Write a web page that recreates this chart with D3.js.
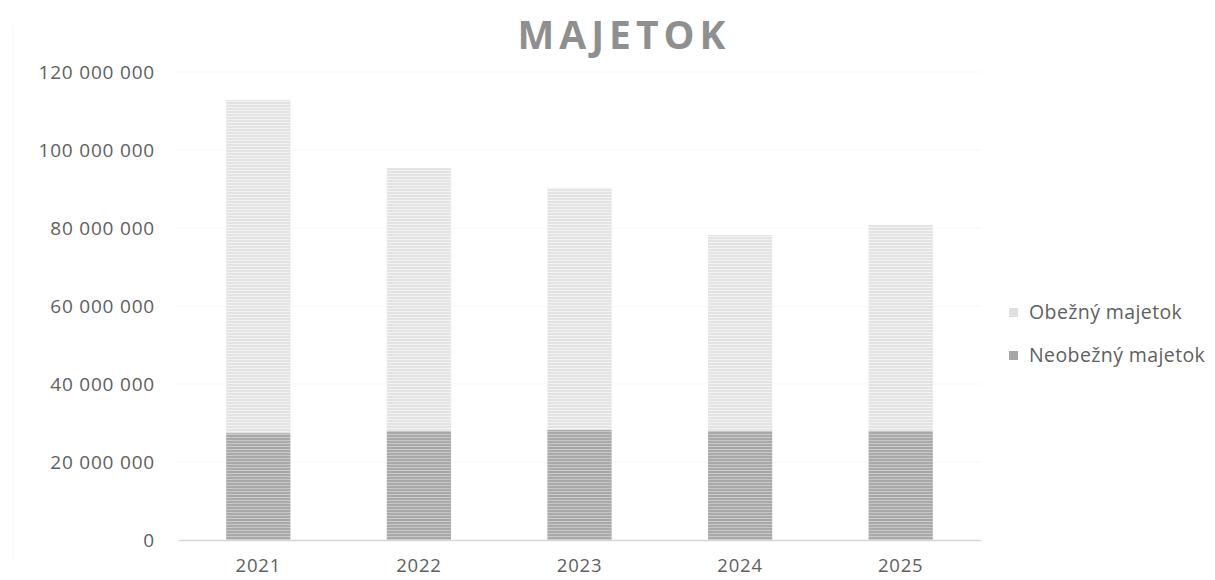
<!DOCTYPE html>
<html>
<head>
<meta charset="utf-8">
<script src="https://cdn.jsdelivr.net/npm/d3@7/dist/d3.min.js"></script>
<style>
  html, body { margin: 0; padding: 0; background: #fff; }
  svg { display: block; }
  text { font-family: "Open Sans", "Noto Sans", sans-serif; }
</style>
</head>
<body>
<svg id="chart" width="1215" height="580"></svg>
<script>
const title = "MAJETOK";
const years = ["2021", "2022", "2023", "2024", "2025"];
const neobezny = [27.4e6, 28.0e6, 28.2e6, 28.0e6, 28.0e6];
const obezny = [85.4e6, 67.4e6, 62.1e6, 50.2e6, 52.8e6];
const seriesNames = ["Obežný majetok", "Neobežný majetok"];
const yTicks = [0, 20e6, 40e6, 60e6, 80e6, 100e6, 120e6];

const svg = d3.select("#chart");
const plot = { left: 178, right: 981, top: 72, bottom: 540 };

// patterns
const defs = svg.append("defs");
function stripe(id, base, light) {
  const p = defs.append("pattern").attr("id", id).attr("patternUnits", "userSpaceOnUse")
    .attr("width", 6).attr("height", 3);
  p.append("rect").attr("width", 6).attr("height", 3).attr("fill", base);
  p.append("rect").attr("y", 2).attr("width", 6).attr("height", 1).attr("fill", light);
}
stripe("pNeo", "#a9a9a9", "#c8c8c8");
stripe("pOb", "#e3e3e3", "#f3f3f3");

const x = d3.scaleBand().domain(years).range([plot.left, plot.right])
  .paddingInner(0.6).paddingOuter(0.3);
const y = d3.scaleLinear().domain([0, 120e6]).range([plot.bottom, plot.top]);

// faint chart border
svg.append("line").attr("x1", 13).attr("x2", 13).attr("y1", 25).attr("y2", 560)
  .attr("stroke", "#f3f3f3").attr("stroke-width", 1);

// gridlines
svg.append("g").selectAll("line").data(yTicks.filter(d => d > 0)).join("line")
  .attr("x1", plot.left).attr("x2", plot.right)
  .attr("y1", d => y(d)).attr("y2", d => y(d))
  .attr("stroke", "#f7f7f7").attr("stroke-width", 1);

// title
svg.append("text").attr("x", 624).attr("y", 49).attr("text-anchor", "middle")
  .attr("font-size", 39).attr("font-weight", "bold").attr("letter-spacing", 5)
  .attr("fill", "#8f8f8f").text(title);

// stacked data
const data = years.map((yr, i) => ({ year: yr, neo: neobezny[i], ob: obezny[i] }));
const stack = d3.stack().keys(["neo", "ob"])(data);
const fills = { neo: "url(#pNeo)", ob: "url(#pOb)" };

svg.append("g").selectAll("g").data(stack).join("g")
  .attr("fill", d => fills[d.key])
  .selectAll("rect").data(d => d).join("rect")
  .attr("x", d => x(d.data.year))
  .attr("width", x.bandwidth())
  .attr("y", d => y(d[1]))
  .attr("height", d => y(d[0]) - y(d[1]));

// y axis
const fmt = v => d3.format(",")(v).replace(/,/g, " ");
const yAxis = d3.axisLeft(y).tickValues(yTicks).tickFormat(fmt).tickSize(0).tickPadding(0);
const gy = svg.append("g").attr("transform", `translate(155,0)`).call(yAxis);
gy.select(".domain").remove();
gy.selectAll("text").attr("font-size", 19).attr("letter-spacing", 0.8).attr("fill", "#606060")
  .attr("font-family", "Open Sans, sans-serif").attr("dy", "0.35em");

// x axis
const xAxis = d3.axisBottom(x).tickSize(0).tickPadding(0);
const gx = svg.append("g").attr("transform", `translate(0,${plot.bottom})`).call(xAxis);
gx.select(".domain").attr("stroke", "#d6d6d6").attr("stroke-width", 1.5);
gx.selectAll("text").attr("font-size", 18.5).attr("letter-spacing", 0.8).attr("fill", "#606060")
  .attr("font-family", "Open Sans, sans-serif").attr("y", 32).attr("dy", 0);

// legend
const legendColors = ["#e0e0e0", "#a6a6a6"];
const lg = svg.append("g");
seriesNames.forEach((name, i) => {
  const cy = 312 + i * 43;
  lg.append("rect").attr("x", 1009).attr("y", cy - 4).attr("width", 9).attr("height", 9)
    .attr("fill", legendColors[i]);
  lg.append("text").attr("x", 1029).attr("y", cy).attr("dy", "0.35em")
    .attr("font-size", 19.5).attr("letter-spacing", 0.4).attr("fill", "#606060").text(name);
});
</script>
</body>
</html>
